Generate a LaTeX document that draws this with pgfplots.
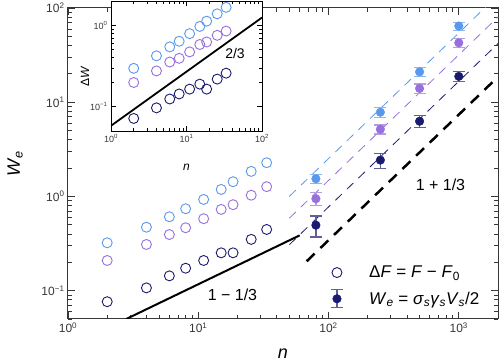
\documentclass[border=0pt]{standalone}
\usepackage{fontspec}
\setmainfont{Liberation Sans}
\usepackage{pgfplots}
\pgfplotsset{compat=1.18}

\definecolor{cblue}{RGB}{90,152,236}
\definecolor{cpurp}{RGB}{152,112,222}
\definecolor{cnavy}{RGB}{26,26,110}
\definecolor{axgray}{RGB}{55,55,55}

\newcommand{\vi}[1]{\textit{#1}}
\newcommand{\sbi}[1]{\textsubscript{\textit{#1}}}

\pgfplotsset{
  opencirc/.style={only marks, mark=o, mark size=5pt, mark options={line width=0.9pt}},
  fillcirc/.style={only marks, mark=*, mark size=4.3pt,
    error bars/y dir=both, error bars/y explicit,
    error bars/error bar style={line width=1.2pt, #1!70},
    error bars/error mark options={rotate=90, mark size=6pt, line width=1.2pt, #1!70}},
  fitline/.style={line width=0.8pt, dash pattern=on 9pt off 7pt},
}

\begin{document}
\begin{tikzpicture}
\begin{axis}[
  at={(0pt,0pt)}, anchor=south west,
  scale only axis, width=430pt, height=311pt,
  xmode=log, ymode=log,
  xmin=1, xmax=2000, ymin=0.05, ymax=100,
  axis line style={axgray, line width=1pt},
  tick style={axgray, line width=0.8pt},
  major tick length=7pt, minor tick length=4pt,
  tick align=inside,
  xtick={1,10,100,1000},
  xticklabels={10\textsuperscript{0},10\textsuperscript{1},10\textsuperscript{2},10\textsuperscript{3}},
  minor xtick={2,3,4,5,6,7,8,9,20,30,40,50,60,70,80,90,200,300,400,500,600,700,800,900,2000},
  ytick={0.1,1,10,100},
  yticklabels={10\textsuperscript{−1},10\textsuperscript{0},10\textsuperscript{1},10\textsuperscript{2}},
  minor ytick={0.05,0.06,0.07,0.08,0.09,0.2,0.3,0.4,0.5,0.6,0.7,0.8,0.9,2,3,4,5,6,7,8,9,20,30,40,50,60,70,80,90},
  tick label style={font=\fontsize{12}{12}\selectfont, text=axgray},
  xlabel={\vi{n}}, ylabel={\vi{W}\sbi{e}},
  label style={font=\fontsize{18}{18}\selectfont},
  xlabel style={at={(axis description cs:0.5,-0.112)}, anchor=center},
  ylabel style={at={(axis description cs:-0.123,0.5)}, anchor=center},
  legend style={draw=none, fill=none, font=\fontsize{17}{17}\selectfont,
    at={(axis description cs:0.599,0.184)}, anchor=north west,
    row sep=8pt, legend cell align=left},
]
% guide lines
\addplot[black, line width=2pt, forget plot] coordinates {(2.8,0.05) (60,0.386)};
\addplot[black, line width=2.5pt, dash pattern=on 11pt off 8pt, forget plot] coordinates {(68,0.205) (2000,18.6)};
\addplot[cblue, fitline, forget plot] coordinates {(50,1.0) (2000,136.8)};
\addplot[cpurp, fitline, forget plot] coordinates {(50,0.587) (2000,80.3)};
\addplot[cnavy, fitline, forget plot] coordinates {(50,0.307) (2000,42)};

% Delta F = F - F0
\addplot[cblue, opencirc, forget plot] coordinates {
  (2,0.322) (4,0.471) (6,0.608) (8,0.740) (11,0.929) (15,1.187) (18.5,1.433) (25.5,1.844) (33.5,2.28)};
\addplot[cpurp, opencirc, forget plot] coordinates {
  (2,0.209) (4,0.309) (6,0.394) (8,0.465) (11,0.580) (15,0.728) (18.5,0.817) (25.5,1.03) (33.5,1.27)};
\addplot[cnavy, opencirc, forget plot] coordinates {
  (2,0.0763) (4,0.107) (6,0.1435) (8,0.173) (11,0.209) (15,0.252) (18.5,0.252) (25.5,0.35) (33.5,0.446)};

% W_e with error bars
\addplot[cblue, forget plot, fillcirc=cblue] coordinates {
  (80,1.54) +- (0,0.18) (250,7.83) +- (0,1.0) (500,21.0) +- (0,2.3) (1000,64.4) +- (0,6.3)};
\addplot[cpurp, forget plot, fillcirc=cpurp] coordinates {
  (80,0.945) +- (0,0.15) (250,5.16) +- (0,0.57) (500,14.0) +- (0,1.6) (1000,42.7) +- (0,4.4)};
\addplot[cnavy, forget plot, fillcirc=cnavy] coordinates {
  (80,0.495) +- (0,0.124) (250,2.43) +- (0,0.45) (500,6.28) +- (0,0.93) (1000,18.8) +- (0,2.2)};

\addlegendimage{legend image code/.code={
  \draw[cnavy, line width=0.9pt] (0pt,0pt) circle (5pt);
  \path (-8pt,0pt) (30pt,0pt);}}
\addlegendentry{Δ\vi{F} = \vi{F} − \vi{F}\textsubscript{0}}
\addlegendimage{legend image code/.code={
  \draw[cnavy!70, line width=1.2pt] (0pt,-9pt) -- (0pt,9pt)
     (-6pt,-9pt) -- (6pt,-9pt) (-6pt,9pt) -- (6pt,9pt);
  \fill[cnavy] (0pt,0pt) circle (4.3pt);
  \path (-8pt,0pt) (30pt,0pt);}}
\addlegendentry{\vi{W}\sbi{e} = \vi{σ}\sbi{s}\vi{γ}\sbi{s}\vi{V}\sbi{s}/2}

\node[font=\fontsize{16}{16}\selectfont] at (axis cs:18.3,0.0914) {1 − 1/3};
\node[font=\fontsize{16}{16}\selectfont] at (axis cs:723,1.34) {1 + 1/3};
\end{axis}

% inset
\begin{axis}[
  at={(43pt,188pt)}, anchor=south west,
  scale only axis, width=151pt, height=130pt,
  xmode=log, ymode=log,
  xmin=1, xmax=100, ymin=0.05, ymax=2,
  axis background/.style={fill=white},
  axis line style={black, line width=0.8pt},
  tick style={black, line width=0.7pt},
  major tick length=5pt,
  tick align=inside,
  xtick={1,10,100},
  xticklabels={10\textsuperscript{0},10\textsuperscript{1},10\textsuperscript{2}},
  ytick={0.1,1},
  yticklabels={10\textsuperscript{−1},10\textsuperscript{0}},
  minor xtick={}, minor ytick={},
  tick label style={font=\fontsize{9}{9}\selectfont, text=axgray},
  xlabel={\vi{n}}, ylabel={Δ\vi{W}},
  label style={font=\fontsize{12}{12}\selectfont},
  xlabel style={at={(axis description cs:0.5,-0.277)}, anchor=center},
  ylabel style={at={(axis description cs:-0.172,0.42)}, anchor=center},
]
\addplot[black, line width=1.8pt] coordinates {(1,0.058) (100,1.25)};
\addplot[cblue, opencirc] coordinates {
  (2,0.296) (4,0.422) (6,0.544) (8,0.638) (11,0.792) (15,0.972) (18.5,1.128) (25.5,1.39) (33.5,1.67)};
\addplot[cpurp, opencirc] coordinates {
  (2,0.198) (4,0.275) (6,0.354) (8,0.393) (11,0.472) (15,0.582) (18.5,0.625) (25.5,0.755) (33.5,0.852)};
\addplot[cnavy, opencirc] coordinates {
  (2,0.0714) (4,0.0964) (6,0.124) (8,0.143) (11,0.164) (15,0.189) (18.5,0.164) (25.5,0.218) (33.5,0.258)};
\node[font=\fontsize{14}{14}\selectfont] at (axis cs:43.9,0.452) {2/3};
\end{axis}

\pgfresetboundingbox
\path (-68pt,-45pt) rectangle (431pt,319pt);
\end{tikzpicture}
\end{document}
